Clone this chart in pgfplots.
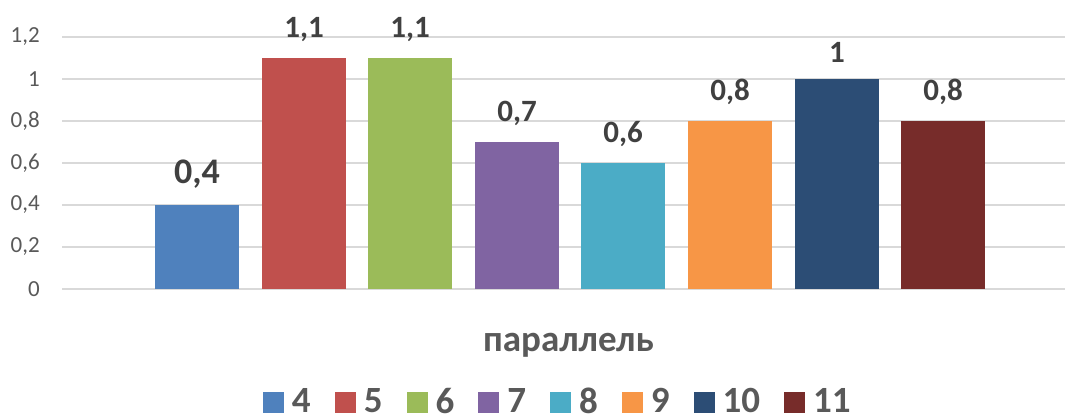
\documentclass[border=0pt]{standalone}
\usepackage{pgfplots}
\pgfplotsset{compat=1.18}
\usepackage{fontspec}
\setmainfont{Carlito}
\definecolor{c4}{HTML}{4F81BD}
\definecolor{c5}{HTML}{C0504D}
\definecolor{c6}{HTML}{9BBB59}
\definecolor{c7}{HTML}{8064A2}
\definecolor{c8}{HTML}{4BACC6}
\definecolor{c9}{HTML}{F79646}
\definecolor{c10}{HTML}{2C4D75}
\definecolor{c11}{HTML}{772C2A}
\definecolor{tickgray}{HTML}{595959}
\definecolor{labgray}{HTML}{404040}
\definecolor{gridgray}{HTML}{D9D9D9}
\begin{document}
\begin{tikzpicture}
\useasboundingbox (0,0) rectangle (1065pt,417pt);
\begin{axis}[
  at={(62pt,128pt)}, anchor=south west,
  scale only axis, width=1003pt, height=252pt,
  xmin=62, xmax=1065, ymin=0, ymax=1.2,
  ybar, bar width=84pt,
  axis line style={draw=none},
  xtick=\empty,
  ytick={0,0.2,0.4,0.6,0.8,1,1.2},
  major tick length=0pt,
  ymajorgrids, major grid style={gridgray, line width=1.5pt},
  /pgf/number format/.cd, use comma, fixed, assume math mode=true, /pgfplots/.cd,
  yticklabel style={font=\fontsize{23}{27}\selectfont, color=tickgray, inner sep=0pt, xshift=-22pt},
  nodes near coords,
  every node near coord/.append style={font=\fontsize{31}{36}\selectfont\bfseries, color=labgray, anchor=south, inner sep=0pt, yshift=16pt},
  xlabel={параллель},
  xlabel style={at={(axis description cs:0.505,-0.2)}, anchor=center, font=\fontsize{37}{42}\selectfont\bfseries, color=tickgray, yshift=-6pt},
  legend columns=8,
  legend style={at={(axis description cs:0.2004,-0.494)}, anchor=south west, draw=none, fill=none, inner sep=0pt, outer sep=0pt,
    font=\fontsize{37}{40}\selectfont\bfseries, text=tickgray,
    /tikz/every even column/.append style={column sep=24pt},
    nodes={inner sep=0pt, outer sep=0pt, text depth=0pt}},
  legend image code/.code={\fill[#1] (0pt,-13pt) rectangle (21pt,8pt); \path (29pt,0pt);},
]
\addplot[fill=c4, draw=none, bar shift=0pt, every node near coord/.append style={font=\fontsize{36}{40}\selectfont\bfseries}] coordinates {(197,0.4)};
\addplot[fill=c5, draw=none, bar shift=0pt] coordinates {(304,1.1)};
\addplot[fill=c6, draw=none, bar shift=0pt] coordinates {(410,1.1)};
\addplot[fill=c7, draw=none, bar shift=0pt] coordinates {(517,0.7)};
\addplot[fill=c8, draw=none, bar shift=0pt] coordinates {(623,0.6)};
\addplot[fill=c9, draw=none, bar shift=0pt] coordinates {(730,0.8)};
\addplot[fill=c10, draw=none, bar shift=0pt] coordinates {(837,1)};
\addplot[fill=c11, draw=none, bar shift=0pt] coordinates {(943,0.8)};
\legend{4,5,6,7,8,9,10,11}
\end{axis}
\end{tikzpicture}
\end{document}
